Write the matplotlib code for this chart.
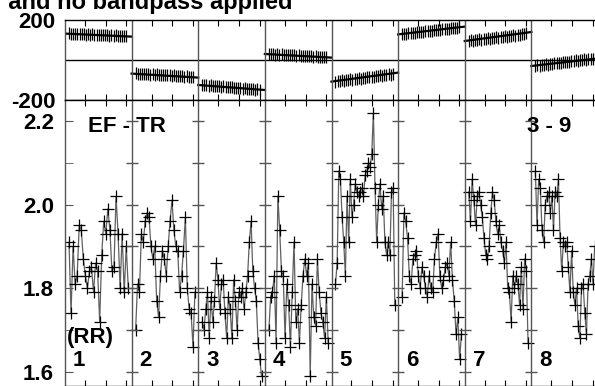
import matplotlib.pyplot as plt
import numpy as np

plt.rcParams['font.family'] = ['Liberation Sans', 'DejaVu Sans']
plt.rcParams['font.weight'] = 'bold'

# amplitude per segment (RR)
amp_1 = [1.91, 1.74, 1.90, 1.81, 1.83, 1.95, 1.94, 1.87, 1.83, 1.80, 1.84, 1.85, 1.79, 1.86, 1.84,
         1.72, 1.88, 1.96, 1.93, 1.99, 1.94, 1.84, 1.85, 2.02, 1.93, 1.80, 1.93, 1.79, 1.90, 1.80]
amp_2 = [1.70, 1.81, 1.79, 1.93, 1.91, 1.96, 1.98, 1.97, 1.90, 1.87, 1.90, 1.77, 1.73, 1.83, 1.89, 1.87,
         1.83, 1.90, 1.96, 2.01, 1.94, 1.90, 1.89, 1.79, 1.83, 1.89, 1.97, 1.80, 1.75, 1.74, 1.66, 1.79]
amp_3 = [1.72, 1.70, 1.75, 1.79, 1.68, 1.78, 1.72, 1.77, 1.86, 1.82, 1.75, 1.81, 1.82, 1.74, 1.68, 1.78,
         1.75, 1.68, 1.82, 1.77, 1.70, 1.79, 1.78, 1.80, 1.75, 1.79, 1.83, 1.91, 1.96, 1.84, 1.80, 1.77,
         1.67, 1.63, 1.59]
amp_4 = [1.70, 1.78, 1.79, 1.83, 1.67, 2.02, 1.94, 1.84, 1.83, 1.68, 1.81, 1.76, 1.66, 1.79, 1.91, 1.72,
         1.75, 1.67, 1.76, 1.83, 1.87, 1.83, 1.86, 1.59, 1.81, 1.73, 1.71, 1.87, 1.79, 1.74, 1.72, 1.68,
         1.78, 1.67]
amp_5 = [1.81, 1.86, 2.08, 2.06, 1.97, 1.91, 1.83, 2.02, 1.91, 2.06, 1.97, 2.00, 2.05, 2.03, 2.02, 2.03,
         2.04, 2.02, 2.07, 2.08, 2.10, 2.09, 2.12, 2.22, 2.04, 1.91, 2.00, 2.05, 1.99, 2.02, 1.91, 1.88,
         1.91, 1.88, 2.03, 2.04, 1.76]
amp_6 = [1.78, 1.98, 1.96, 1.92, 1.83, 1.81, 1.87, 1.88, 1.89, 1.83, 1.80, 1.85, 1.83, 1.80, 1.78, 1.83,
         1.80, 1.79, 1.87, 1.91, 1.93, 1.83, 1.80, 1.82, 1.85, 1.86, 1.83, 1.91, 1.82, 1.77, 1.69, 1.73,
         1.63, 1.69]
amp_7 = [2.03, 1.96, 2.06, 2.01, 1.95, 2.02, 2.03, 2.00, 1.97, 1.92, 1.88, 1.87, 1.90, 1.98, 2.03, 2.01,
         1.96, 1.93, 1.95, 1.91, 1.89, 1.86, 1.91, 1.80, 1.79, 1.72, 1.83, 1.80, 1.83, 1.81, 1.76, 1.85,
         1.75, 1.87, 1.84, 1.67]
amp_8 = [2.08, 1.95, 2.06, 2.04, 1.94, 1.91, 2.00, 2.02, 2.03, 1.98, 2.02, 1.94, 2.03, 2.02, 2.06, 1.92,
         1.84, 1.91, 1.90, 1.91, 1.85, 1.79, 1.89, 1.79, 1.76, 1.80, 1.71, 1.68, 1.80, 1.81, 1.74, 1.69,
         1.81, 1.83, 1.87, 1.81, 1.90]
amps = [amp_1, amp_2, amp_3, amp_4, amp_5, amp_6, amp_7, amp_8]

# phase per segment (deg)
ph_1 = [133, 130, 132, 129, 131, 130, 128, 130, 127, 129, 126, 128, 127, 125, 127, 124, 126, 123, 125, 122, 124, 121, 123, 120, 122, 119, 120, 118]
ph_2 = [-67, -70, -68, -71, -69, -72, -70, -73, -71, -74, -72, -75, -73, -76, -75, -77, -76, -79, -77, -80, -79, -82, -80, -83, -82, -85, -84, -87]
ph_3 = [-124, -127, -125, -129, -127, -130, -129, -132, -131, -134, -132, -136, -134, -137, -136, -139, -138, -141, -140, -143, -141, -145, -143, -146, -145, -148, -147, -150]
ph_4 = [31, 28, 30, 27, 29, 26, 28, 25, 27, 24, 26, 23, 25, 22, 24, 21, 22, 20, 21, 18, 20, 17, 19, 16, 17, 15, 16, 13]
ph_5 = [-108, -104, -106, -101, -103, -99, -101, -96, -98, -94, -95, -91, -93, -88, -90, -86, -87, -83, -85, -80, -82, -77, -79, -75, -76, -71, -73, -68]
ph_6 = [128, 132, 130, 135, 133, 137, 135, 140, 138, 142, 140, 145, 143, 147, 145, 150, 148, 152, 150, 155, 153, 157, 155, 160, 158, 162, 160, 164]
ph_7 = [96, 99, 97, 102, 100, 104, 102, 107, 105, 109, 107, 112, 110, 114, 112, 117, 115, 119, 117, 122, 120, 124, 122, 127, 125, 130, 128, 135]
ph_8 = [-29, -26, -28, -23, -25, -21, -23, -18, -20, -16, -17, -13, -15, -10, -12, -8, -9, -5, -7, -2, -4, 0, -2, 3, 1, 5, 3, 7]
phases = [ph_1, ph_2, ph_3, ph_4, ph_5, ph_6, ph_7, ph_8]
ph_err = 30

# model phase line, start / end of each segment
model_start = [132, -68, -125, 30, -108, 128, 95, -30]
model_end = [117, -88, -150, 12, -63, 167, 140, 8]

seg_labels = ['1', '2', '3', '4', '5', '6', '7', '8']
amp_ticks = [1.6, 1.8, 2.0, 2.2]
amp_ticklabels = ['1.6', '1.8', '2.0', '2.2']
amp_minor = [1.7, 1.9, 2.1]
ph_ticks = [-200, 200]
ph_ticklabels = ['-200', '200']

W, H = 595, 386
fig = plt.figure(figsize=(W / 100, H / 100), dpi=100)
nseg = len(amps)
left, width = 65 / W, 533 / W
ax_ph = fig.add_axes([left, (H - 100) / H, width, 80 / H])
ax_am = fig.add_axes([left, 0, width, (H - 100) / H])

xt = [i + f for i in range(nseg) for f in (0.30, 0.61, 0.92)]
gray = '#555555'
fs = 16

# phase panel
for i, ph in enumerate(phases):
    x = i + np.linspace(0.06, 0.92, len(ph))
    ax_ph.errorbar(x, ph, yerr=ph_err, fmt='none', ecolor='black', elinewidth=0.9)
    ax_ph.plot([i, i + 1], [model_start[i], model_end[i]], color='black', lw=1.6)
ax_ph.axhline(0, color='black', lw=1)
ax_ph.set_xlim(0, nseg)
ax_ph.set_ylim(-200, 200)
ax_ph.set_yticks(ph_ticks)
ax_ph.set_yticklabels(ph_ticklabels, fontsize=fs, fontweight='bold')
ax_ph.tick_params(axis='y', length=0, pad=7)
ax_ph.set_xticks(xt)
ax_ph.set_xticklabels([])
ax_ph.tick_params(axis='x', direction='in', top=True, bottom=True, length=4, color='black')

# amplitude panel
for i, a in enumerate(amps):
    x = i + np.linspace(0.06, 0.95, len(a))
    ax_am.plot(x, a, color='#606060', lw=0.9)
    ax_am.plot(x, a, ls='none', marker='+', ms=8, mew=0.9, color='black')
ax_am.set_xlim(0, nseg)
ax_am.set_ylim(1.566, 2.25)
ax_am.set_yticks(amp_ticks)
ax_am.set_yticklabels(amp_ticklabels, fontsize=fs, fontweight='bold')
ax_am.set_yticks(amp_minor, minor=True)
ax_am.tick_params(axis='y', which='both', direction='in', length=6, pad=8, color=gray)
ax_am.set_xticks(xt)
ax_am.set_xticklabels([])
ax_am.tick_params(axis='x', direction='in', top=True, bottom=True, length=4, color='black')

all_y = sorted(amp_ticks + amp_minor)
for b in range(1, nseg):
    for ax in (ax_ph, ax_am):
        ax.axvline(b, color=gray, lw=1)
    ax_am.plot([b] * len(all_y), all_y, ls='none', marker='_', ms=8, mew=1, color=gray)

for ax in (ax_ph, ax_am):
    for s in ax.spines.values():
        s.set_linewidth(1)
    ax.spines['left'].set_color(gray)


def px(x, y):
    return x / W, 1 - y / H


fig.text(*px(293, 9.5), 'calibrated and no bandpass applied', ha='right', va='baseline',
         fontsize=17, fontweight='bold')
fig.text(*px(88, 126), 'EF - TR', ha='left', va='center', fontsize=fs, fontweight='bold')
fig.text(*px(527, 126), '3 - 9', ha='left', va='center', fontsize=fs, fontweight='bold')
fig.text(*px(67, 337), '(RR)', ha='left', va='center', fontsize=fs, fontweight='bold')
for i, lab in enumerate(seg_labels):
    fig.text(*px(65 + i * 66.6 + 8, 360), lab, ha='left', va='center', fontsize=fs, fontweight='bold')

fig.savefig('out.png', dpi=100)
